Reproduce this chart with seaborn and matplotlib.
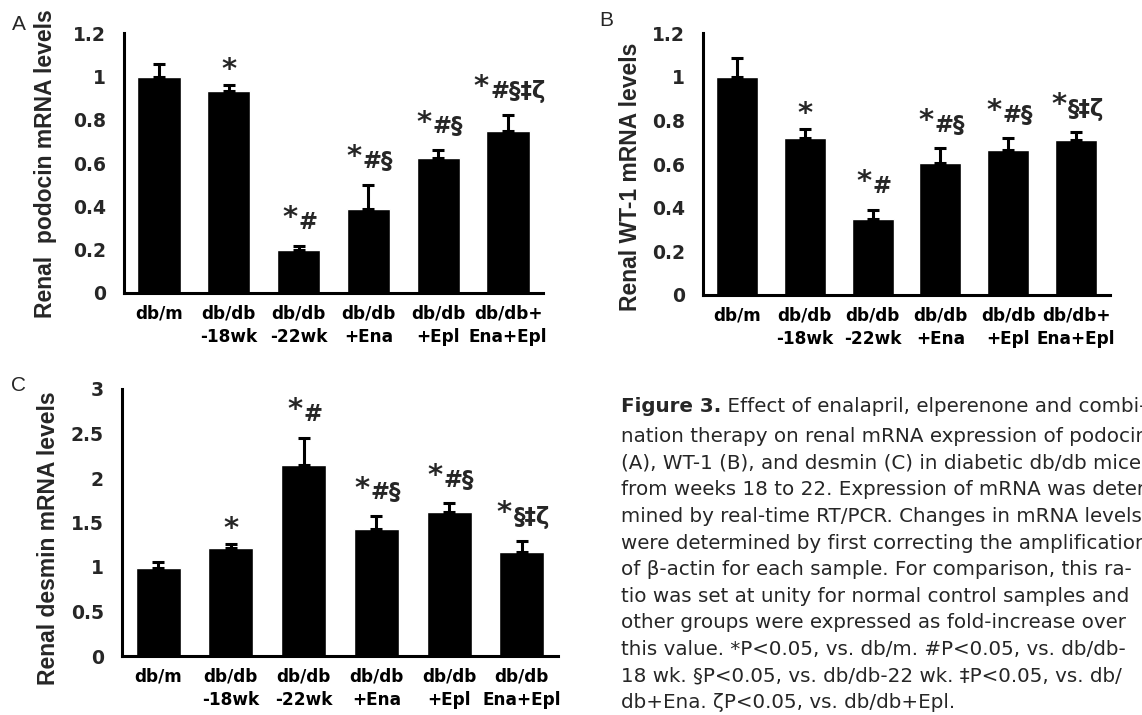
import numpy as np
import pandas as pd
import matplotlib
matplotlib.use("Agg")
import matplotlib.pyplot as plt
import seaborn as sns
from matplotlib.ticker import FuncFormatter, FixedLocator

# ---------------- data ----------------
groups_ab = ["db/m", "db/db\n-18wk", "db/db\n-22wk", "db/db\n+Ena", "db/db\n+Epl", "db/db+\nEna+Epl"]
groups_c = ["db/m", "db/db\n-18wk", "db/db\n-22wk", "db/db\n+Ena", "db/db\n+Epl", "db/db\nEna+Epl"]

podocin_mean = [1.00, 0.933, 0.200, 0.388, 0.622, 0.749]
podocin_sem = [0.057, 0.027, 0.019, 0.112, 0.038, 0.074]
podocin_marks = ["", "*", "*#", "*#§", "*#§", "*#§‡ζ"]

wt1_mean = [1.00, 0.718, 0.350, 0.606, 0.664, 0.710]
wt1_sem = [0.089, 0.044, 0.041, 0.066, 0.054, 0.036]
wt1_marks = ["", "*", "*#", "*#§", "*#§", "*§‡ζ"]

desmin_mean = [0.99, 1.21, 2.146, 1.427, 1.614, 1.172]
desmin_sem = [0.066, 0.048, 0.307, 0.146, 0.102, 0.124]
desmin_marks = ["", "*", "*#", "*#§", "*#§", "*§‡ζ"]

yticks_ab = [0, 0.2, 0.4, 0.6, 0.8, 1.0, 1.2]
yticks_c = [0, 0.5, 1.0, 1.5, 2.0, 2.5, 3.0]

caption_head = "Figure 3."
caption_first = " Effect of enalapril, elperenone and combi-"
caption_lines = [
    "nation therapy on renal mRNA expression of podocin",
    "(A), WT-1 (B), and desmin (C) in diabetic db/db mice",
    "from weeks 18 to 22. Expression of mRNA was deter-",
    "mined by real-time RT/PCR. Changes in mRNA levels",
    "were determined by first correcting the amplification",
    "of β-actin for each sample. For comparison, this ra-",
    "tio was set at unity for normal control samples and",
    "other groups were expressed as fold-increase over",
    "this value. *P<0.05, vs. db/m. #P<0.05, vs. db/db-",
    "18 wk. §P<0.05, vs. db/db-22 wk. ‡P<0.05, vs. db/",
    "db+Ena. ζP<0.05, vs. db/db+Epl.",
]

# ---------------- style ----------------
sns.set_style("white")
plt.rcParams["font.family"] = ["DejaVu Sans"]

W, H = 1142, 715
fig = plt.figure(figsize=(W / 100, H / 100), dpi=100)


def px_axes(x0, x1, ytop, ybot):
    return fig.add_axes([x0 / W, 1 - ybot / H, (x1 - x0) / W, (ybot - ytop) / H])


LW = 2.2
YTICK_FS = 13.5
XTICK_FS = 12.2


def panel(ax, groups, means, sems, marks, yticks, ylabel, label_xy):
    df = pd.DataFrame({"group": groups, "value": means})
    sns.barplot(data=df, x="group", y="value", color="black", saturation=1,
                width=0.62, ax=ax, errorbar=None)
    n = len(groups)
    ax.errorbar(np.arange(n), means, yerr=[np.zeros(n), sems], fmt="none",
                ecolor="black", elinewidth=LW, capsize=4, capthick=LW, zorder=3)
    ax.set_xlim(-0.5, n - 0.5)
    ax.set_ylim(yticks[0], yticks[-1])
    ax.set_yticks(yticks)
    ax.yaxis.set_major_formatter(FuncFormatter(lambda v, p: f"{v:g}"))
    ax.set_xticks(np.arange(n))
    ax.set_xticklabels(groups)
    ax.xaxis.set_minor_locator(FixedLocator(np.arange(-0.5, n, 1.0)))
    for s in ("top", "right"):
        ax.spines[s].set_visible(False)
    for s in ("left", "bottom"):
        ax.spines[s].set_linewidth(LW)
        ax.spines[s].set_color("black")
    ax.tick_params(axis="x", which="major", length=0, pad=8.5,
                   labelsize=XTICK_FS, labelcolor="black")
    ax.tick_params(axis="x", which="minor", length=10, width=LW,
                   direction="inout", color="black")
    ax.tick_params(axis="y", which="major", length=10, width=LW,
                   direction="inout", color="black", pad=8, labelsize=YTICK_FS)
    for t in ax.get_xticklabels() + ax.get_yticklabels():
        t.set_fontweight("bold")
    for t in ax.get_xticklabels():
        t.set_linespacing(1.4)
    ax.set_xlabel("")
    ax.set_ylabel(ylabel, family=["Liberation Sans", "DejaVu Sans"],
                  fontweight="bold", fontsize=16.5)
    ax.yaxis.set_label_coords(*label_xy)
    # significance marks
    for i, (m, e, mk) in enumerate(zip(means, sems, marks)):
        if not mk:
            continue
        top = m + e
        star, rest = mk[0], mk[1:]
        if rest:
            t = ax.annotate(rest, xy=(i, top), xytext=(7, 12),
                            textcoords="offset points", ha="center",
                            va="baseline", fontsize=16.5, fontweight="bold",
                            annotation_clip=False)
            ax.annotate(star, xy=(0, top), xycoords=(t, "data"),
                        xytext=(-1, 14), textcoords="offset points",
                        ha="right", va="baseline", fontsize=21,
                        fontweight="bold", annotation_clip=False)
        else:
            ax.annotate(star, xy=(i, top), xytext=(0, 5),
                        textcoords="offset points", ha="center",
                        va="baseline", fontsize=21, fontweight="bold",
                        annotation_clip=False)


axA = px_axes(124, 543, 33.3, 293)
panel(axA, groups_ab, podocin_mean, podocin_sem, podocin_marks, yticks_ab,
      "Renal  podocin mRNA levels", (-0.16, 0.5))

axB = px_axes(703, 1110, 33.3, 295)
panel(axB, groups_ab, wt1_mean, wt1_sem, wt1_marks, yticks_ab,
      "Renal WT-1 mRNA levels", (-0.151, 0.45))

axC = px_axes(121.7, 558.3, 389, 656)
panel(axC, groups_c, desmin_mean, desmin_sem, desmin_marks, yticks_c,
      "Renal desmin mRNA levels", (-0.141, 0.44))

# panel letters
for letter, (x, y) in zip("ABC", [(19, 24), (606, 20), (18, 386)]):
    fig.text(x / W, 1 - y / H, letter, family=["Liberation Sans", "DejaVu Sans"],
             fontsize=15, ha="center", va="center")

# caption
cx = 621
CAP_FS = 14.3
head = fig.text(cx / W, 1 - 407 / H, caption_head, fontsize=CAP_FS,
                fontweight="bold", ha="left", va="center")
fig.add_artist(matplotlib.text.Annotation(
    caption_first, xy=(1, 0.5), xycoords=head, xytext=(0, 0),
    textcoords="offset points", ha="left", va="center", fontsize=CAP_FS))
for k, line in enumerate(caption_lines):
    y = 436.7 + k * 26.6
    fig.text(cx / W, 1 - y / H, line, fontsize=CAP_FS, ha="left", va="center")

fig.savefig("out.png", dpi=100)
